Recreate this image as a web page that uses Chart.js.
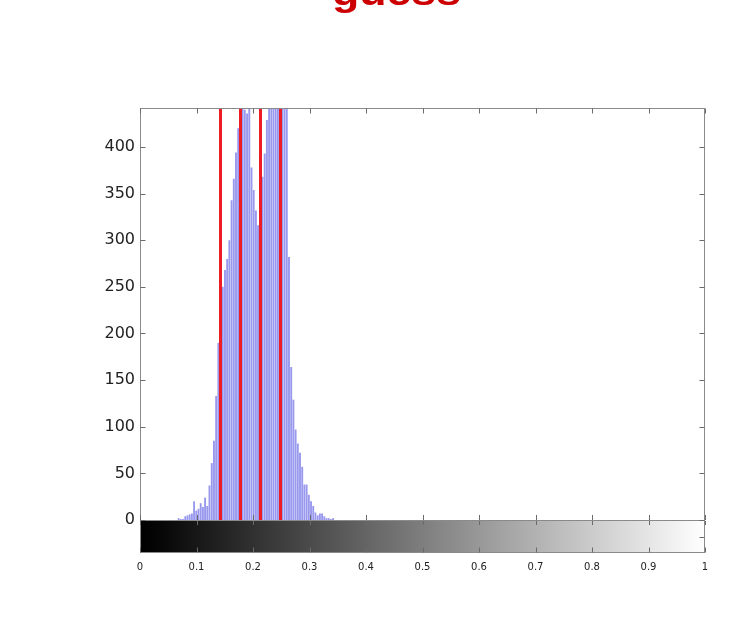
<!DOCTYPE html>
<html>
<head>
<meta charset="utf-8">
<script src="https://cdn.jsdelivr.net/npm/chart.js@4/dist/chart.umd.min.js"></script>
<style>
  html, body { margin: 0; padding: 0; background: #ffffff; overflow: hidden; }
  #wrap { position: relative; width: 733px; height: 619px; }
  #title { position: absolute; left: 30px; top: -25px; width: 733px; text-align: center;
           font: bold 36px "Liberation Sans", Arial, sans-serif; line-height: 36px; color: #cc0000;
           transform: scaleX(1.24); transform-origin: 50% 50%; white-space: nowrap; }
  canvas { position: absolute; left: 0; top: 0; }
</style>
</head>
<body>
<div id="wrap">
  <canvas id="c" width="733" height="619"></canvas>
  <div id="title">guess</div>
</div>
<script>
// Histogram bin centers (256 bins over 0..1) that hold counts
const binCenters = [
  0.0684, 0.0723, 0.0762, 0.0801, 0.0840, 0.0879, 0.0918, 0.0957, 0.0996, 0.1035,
  0.1074, 0.1113, 0.1152, 0.1191, 0.1230, 0.1270, 0.1309, 0.1348, 0.1387, 0.1426,
  0.1465, 0.1504, 0.1543, 0.1582, 0.1621, 0.1660, 0.1699, 0.1738, 0.1777, 0.1816,
  0.1855, 0.1895, 0.1934, 0.1973, 0.2012, 0.2051, 0.2090, 0.2129, 0.2168, 0.2207,
  0.2246, 0.2285, 0.2324, 0.2363, 0.2402, 0.2441, 0.2480, 0.2520, 0.2559, 0.2598,
  0.2637, 0.2676, 0.2715, 0.2754, 0.2793, 0.2832, 0.2871, 0.2910, 0.2949, 0.2988,
  0.3027, 0.3066, 0.3105, 0.3145, 0.3184, 0.3223, 0.3262, 0.3301, 0.3340, 0.3379,
  0.3418
];
// Pixel counts per bin
const counts = [
  2, 1, 1, 4, 5, 6, 7, 20, 10, 12,
  18, 14, 24, 15, 37, 61, 85, 133, 190, 216,
  250, 268, 280, 300, 343, 366, 394, 420, 440, 446,
  440, 436, 452, 378, 354, 332, 316, 310, 368, 393,
  429, 455, 470, 480, 475, 468, 460, 452, 446, 450,
  282, 164, 129, 97, 82, 72, 57, 38, 38, 27,
  20, 15, 8, 5, 7, 7, 4, 2, 2, 1,
  2
];
// Threshold guesses (red vertical lines)
const guessLines = [0.1416, 0.1770, 0.2124, 0.2478];
// Tick labels
const xTickLabels = ['0', '0.1', '0.2', '0.3', '0.4', '0.5', '0.6', '0.7', '0.8', '0.9', '1'];
const yTickValues = [0, 50, 100, 150, 200, 250, 300, 350, 400];

const framePlugin = {
  id: 'framePlugin',
  beforeDatasetsDraw(chart) {
    const {ctx, chartArea: a, scales: {x, y}} = chart;
    const y0 = Math.round(y.getPixelForValue(0));
    const xl = x.getPixelForValue(0), xr = x.getPixelForValue(1);
    const g = ctx.createLinearGradient(xl, 0, xr, 0);
    g.addColorStop(0, '#000000');
    g.addColorStop(0.03, '#050505');
    g.addColorStop(1, '#ffffff');
    ctx.save();
    ctx.fillStyle = g;
    ctx.fillRect(xl, y0, xr - xl, a.bottom - y0);
    ctx.restore();
  },
  afterDatasetsDraw(chart) {
    const {ctx, chartArea: a, scales: {x, y}} = chart;
    const y0 = Math.round(y.getPixelForValue(0));
    ctx.save();
    // red guess lines
    ctx.strokeStyle = '#ee1c24';
    ctx.lineWidth = 3;
    guessLines.forEach(v => {
      const px = Math.round(x.getPixelForValue(v)) + 0.5;
      ctx.beginPath();
      ctx.moveTo(px, y0);
      ctx.lineTo(px, a.top);
      ctx.stroke();
    });
    // frame
    ctx.strokeStyle = '#8a8a8a';
    ctx.lineWidth = 1;
    const L = Math.round(a.left) + 0.5, R = Math.round(a.right) - 0.5;
    const T = Math.round(a.top) + 0.5, B = Math.round(a.bottom) - 0.5;
    ctx.strokeRect(L, T, R - L, B - T);
    ctx.beginPath();
    ctx.moveTo(L, y0 + 0.5); ctx.lineTo(R, y0 + 0.5);
    ctx.stroke();
    // y ticks (inward, both sides)
    ctx.strokeStyle = '#6a6a6a';
    yTickValues.forEach(v => {
      const py = Math.round(y.getPixelForValue(v)) + 0.5;
      ctx.beginPath();
      ctx.moveTo(L, py); ctx.lineTo(L + 5, py);
      ctx.moveTo(R, py); ctx.lineTo(R - 5, py);
      ctx.stroke();
    });
    // x ticks: top of plot, above colorbar, inside colorbar top & bottom
    xTickLabels.forEach((lab, i) => {
      const px = Math.round(x.getPixelForValue(i / 10)) + 0.5;
      ctx.beginPath();
      ctx.moveTo(px, T); ctx.lineTo(px, T + 5);
      ctx.moveTo(px, y0); ctx.lineTo(px, y0 - 5);
      ctx.moveTo(px, y0 + 1); ctx.lineTo(px, y0 + 5);
      ctx.moveTo(px, B); ctx.lineTo(px, B - 5);
      ctx.stroke();
    });
    // colorbar side tick
    const pm = Math.round((y0 + a.bottom) / 2) + 0.5;
    ctx.beginPath();
    ctx.moveTo(R, pm); ctx.lineTo(R - 5, pm);
    ctx.stroke();
    ctx.restore();
  }
};

new Chart(document.getElementById('c').getContext('2d'), {
  type: 'bar',
  data: {
    datasets: [{
      data: binCenters.map((v, i) => ({x: v, y: counts[i]})),
      backgroundColor: '#9898ee',
      borderWidth: 0,
      barPercentage: 0.86,
      categoryPercentage: 1
    }]
  },
  options: {
    responsive: false,
    animation: false,
    layout: {padding: {left: 0, right: 28, top: 108, bottom: 0}},
    plugins: {legend: {display: false}, tooltip: {enabled: false}, title: {display: false}},
    scales: {
      x: {
        type: 'linear', min: 0, max: 1, offset: false,
        grid: {display: false, drawTicks: false},
        border: {display: false},
        ticks: {
          stepSize: 0.1, autoSkip: false, maxRotation: 0, padding: 8,
          color: '#222', font: {family: 'DejaVu Sans', size: 10},
          callback: v => xTickLabels[Math.round(v * 10)]
        },
        afterFit: s => { s.height = 66; }
      },
      y: {
        type: 'linear', min: -35.4, max: 441.8,
        grid: {display: false, drawTicks: false},
        border: {display: false},
        ticks: {
          stepSize: 50, includeBounds: false, padding: 5,
          color: '#222', font: {family: 'DejaVu Sans', size: 16}
        },
        afterBuildTicks: s => { s.ticks = s.ticks.filter(t => yTickValues.includes(t.value)); },
        afterFit: s => { s.width = 140; }
      }
    }
  },
  plugins: [framePlugin]
});
</script>
</body>
</html>
